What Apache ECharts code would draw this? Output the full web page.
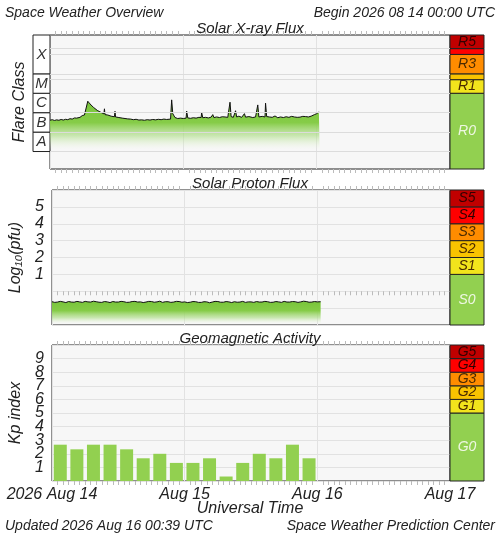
<!DOCTYPE html>
<html><head><meta charset="utf-8">
<script src="https://cdn.jsdelivr.net/npm/echarts@6/dist/echarts.min.js"></script>
<style>html,body{margin:0;padding:0;background:#fff}#c{width:500px;height:533px}</style>
</head><body><div id="c"></div>
<script>
// ---- data ----
// X-ray flux: [hours since 2026-08-14 00:00 UTC, log10(W/m^2)]
const xrayData = [
 [0,-6.39],[0.4,-6.36],[0.8,-6.40],[1.2,-6.37],[1.6,-6.39],[2,-6.35],[2.4,-6.38],[2.8,-6.34],[3.2,-6.36],[3.6,-6.31],[4,-6.33],
 [4.4,-6.27],[4.8,-6.28],[5,-6.22],[5.4,-6.24],[5.8,-6.15],[6.2,-6.12],[6.5,-6.05],[6.8,-5.41],[7.2,-5.55],
 [7.8,-5.72],[8.5,-5.88],[9.0,-5.96],[9.3,-6.02],[9.7,-6.06],[9.8,-5.80],[9.9,-6.10],[10.4,-6.12],[11.0,-6.18],[11.6,-6.21],[11.7,-5.93],[11.8,-6.22],
 [12.4,-6.25],[13,-6.28],[13.5,-6.30],[14,-6.32],[14.5,-6.33],[15,-6.36],[15.5,-6.34],[16,-6.38],[16.5,-6.37],[17,-6.39],[17.5,-6.36],[18,-6.38],
 [18.5,-6.35],[19,-6.37],[19.5,-6.34],[20,-6.36],[20.5,-6.33],[21,-6.35],[21.7,-6.33],[21.9,-5.34],
 [22.1,-6.05],[22.5,-6.25],[23.0,-6.30],[23.5,-6.28],[24.0,-6.30],[24.5,-6.28],[24.6,-5.92],[24.8,-6.27],[25.3,-6.29],[25.8,-6.26],[26.3,-6.28],
 [26.8,-6.24],[27.2,-6.25],[27.3,-6.00],[27.5,-6.26],[28,-6.24],[28.5,-6.27],[29,-6.23],[29.3,-6.10],[29.5,-6.25],[30,-6.22],[30.5,-6.25],
 [31,-6.21],[31.3,-6.12],[31.5,-6.22],[32,-6.24],[32.3,-6.22],[32.4,-5.46],[32.6,-6.20],[33.0,-6.24],[33.3,-6.22],[33.4,-5.90],
 [33.6,-6.22],[34.0,-6.18],[34.5,-6.24],[35.0,-6.05],[35.2,-6.23],[35.8,-6.20],[36.5,-6.25],[37.0,-6.22],[37.4,-5.60],[37.6,-6.22],[38.2,-6.19],[38.7,-6.22],[38.8,-5.51],[39.0,-6.20],
 [39.5,-6.22],[40,-6.24],[40.5,-6.17],[41,-6.26],[41.5,-6.22],[42,-6.25],[42.5,-6.21],[43,-6.24],[43.5,-6.19],[44,-6.22],[44.5,-6.24],[45,-6.23],
 [45.5,-6.19],[46,-6.20],[46.5,-6.22],[47,-6.18],[47.3,-6.20],[47.6,-6.10],[48.0,-6.05],[48.2,-6.08],[48.4,-5.97],[48.6,-6.00]
];
// Proton flux log10(pfu)
const protonData = [
 [0,-0.62],[0.5,-0.66],[1,-0.64],[1.5,-0.60],[2,-0.63],[2.5,-0.67],[3,-0.61],[3.5,-0.64],[4,-0.65],[4.5,-0.60],[5,-0.63],[5.5,-0.66],[6,-0.60],[6.5,-0.63],
 [7,-0.64],[7.5,-0.59],[8,-0.62],[8.5,-0.65],[9,-0.66],[9.5,-0.61],[10,-0.63],[10.5,-0.67],[11,-0.61],[11.5,-0.64],
 [12,-0.64],[12.5,-0.60],[13,-0.62],[13.5,-0.66],[14,-0.65],[14.5,-0.61],[15,-0.60],[15.5,-0.64],[16,-0.63],[16.5,-0.67],[17,-0.64],[17.5,-0.60],
 [18,-0.61],[18.5,-0.65],[19,-0.63],[19.5,-0.59],[20,-0.66],[20.5,-0.62],[21,-0.62],[21.5,-0.66],[22,-0.64],[22.5,-0.60],[23,-0.61],[23.5,-0.65],
 [24,-0.63],[24.5,-0.67],[25,-0.65],[25.5,-0.61],[26,-0.62],[26.5,-0.66],[27,-0.66],[27.5,-0.62],[28,-0.63],[28.5,-0.68],[29,-0.64],[29.5,-0.60],
 [30,-0.61],[30.5,-0.65],[31,-0.65],[31.5,-0.61],[32,-0.63],[32.5,-0.67],[33,-0.62],[33.5,-0.65],[34,-0.64],[34.5,-0.60],[35,-0.66],[35.5,-0.63],
 [36,-0.63],[36.5,-0.66],[37,-0.61],[37.5,-0.64],[38,-0.64],[38.5,-0.60],[39,-0.62],[39.5,-0.66],[40,-0.65],[40.5,-0.61],[41,-0.63],[41.5,-0.66],
 [42,-0.60],[42.5,-0.64],[43,-0.64],[43.5,-0.61],[44,-0.62],[44.5,-0.66],[45,-0.63],[45.5,-0.59],[46,-0.61],[46.5,-0.65],[47,-0.64],[47.5,-0.61],[48,-0.63],[48.6,-0.62]
];
// Kp index, 3-hour bins (bin centre in hours)
const kpHours = [1.5,4.5,7.5,10.5,13.5,16.5,19.5,22.5,25.5,28.5,31.5,34.5,37.5,40.5,43.5,46.5];
const kpValues = [2.67,2.33,2.67,2.67,2.33,1.67,2.0,1.33,1.33,1.67,0.33,1.33,2.0,1.67,2.67,1.67];
const dayLabels = {0:'2026 Aug 14',24:'Aug 15',48:'Aug 16',72:'Aug 17'};
const flareClasses = [['A',-8,-7],['B',-7,-6],['C',-6,-5],['M',-5,-4],['X',-4,-2]];
const rScale = [['R0',-8.9,-5,'#92d050'],['R1',-5,-4.3,'#f2e41c'],['',-4.3,-4,'#f9c300'],['R3',-4,-3,'#ff8c00'],['',-3,-2.7,'#ff0000'],['R5',-2.7,-2,'#c00000']];
const sScale = [['S0',-2,1,'#92d050'],['S1',1,2,'#f2e41c'],['S2',2,3,'#f9c300'],['S3',3,4,'#ff8c00'],['S4',4,5,'#ff0000'],['S5',5,6,'#c00000']];
const gScale = [['G0',0,5,'#92d050'],['G1',5,6,'#f2e41c'],['G2',6,7,'#f9c300'],['G3',7,8,'#ff8c00'],['G4',8,9,'#ff0000'],['G5',9,10,'#c00000']];

const FONT = 'Liberation Sans';
const chart = echarts.init(document.getElementById('c'));
const panels = [{top:35,h:134},{top:190,h:135},{top:345,h:136}];
const grids = [], xAxes = [], yAxes = [], series = [];
panels.forEach(p=>{
  grids.push({left:50,width:400,top:p.top,height:p.h,show:true,backgroundColor:'#f7f7f7',borderColor:'#222',borderWidth:1});
});
panels.forEach(p=>{ grids.push({left:450,width:34,top:p.top,height:p.h}); });
grids.push({left:33,width:17,top:35,height:134});

const yr = [[-8.9,-2],[-2,6],[0,10]];
for(let i=0;i<3;i++){
  xAxes.push({type:'value',gridIndex:i,min:0,max:72,interval:24,
    axisLine:{show:false},axisTick:{show:false},
    minorTick:{show:true,splitNumber:24,length:4,lineStyle:{color:'#bbb'}},
    splitLine:{show:true,lineStyle:{color:'#e2e2e2'}},
    axisLabel:{show:i===2,formatter:v=>dayLabels[v]||'',fontFamily:FONT,fontStyle:'italic',fontSize:16,color:'#222',margin:6}});
  xAxes.push({type:'value',gridIndex:i,min:0,max:72,interval:24,position:'top',
    axisLine:{show:false},axisTick:{show:false},minorTick:{show:true,splitNumber:24,length:4,lineStyle:{color:'#bbb'}},
    splitLine:{show:false},axisLabel:{show:false}});
}
const nameStyle = {fontFamily:FONT,fontStyle:'italic',fontSize:16,color:'#222'};
yAxes.push({type:'value',gridIndex:0,min:-8.9,max:-2,interval:1,name:'Flare Class',nameLocation:'middle',nameGap:22,
  nameTextStyle:nameStyle,axisLine:{show:false},axisTick:{show:false},axisLabel:{show:false},splitLine:{show:false}});
yAxes.push({type:'value',gridIndex:1,min:-2,max:6,interval:1,name:'Log\u2081\u2080(pfu)',nameLocation:'middle',nameGap:28,
  nameTextStyle:nameStyle,axisLine:{show:false},axisTick:{show:false},splitLine:{show:true,lineStyle:{color:'#e2e2e2'}},
  axisLabel:{formatter:v=>(v>=1&&v<=5)?String(v):'',fontFamily:FONT,fontStyle:'italic',fontSize:16,color:'#222',margin:8}});
yAxes.push({type:'value',gridIndex:2,min:0,max:10,interval:1,name:'Kp index',nameLocation:'middle',nameGap:28,
  nameTextStyle:nameStyle,axisLine:{show:false},axisTick:{show:false},splitLine:{show:true,lineStyle:{color:'#e2e2e2'}},
  axisLabel:{formatter:v=>(v>=1&&v<=9)?String(v):'',fontFamily:FONT,fontStyle:'italic',fontSize:16,color:'#222',margin:8}});
for(let g=3;g<7;g++){
  xAxes.push({type:'value',gridIndex:g,min:0,max:1,show:false});
  const r = g===6?yr[0]:yr[g-3];
  yAxes.push({type:'value',gridIndex:g,min:r[0],max:r[1],show:false});
}
const xi = g=> g<3 ? g*2 : 6+(g-3);
const yi = g=> g<3 ? g : 3+(g-3);

function bandSeries(g, data, textColor, fontSize){
  series.push({type:'custom',xAxisIndex:xi(g),yAxisIndex:yi(g),data:data.map(d=>[d[1],d[2]]),
    renderItem:(params,api)=>{
      const d=data[params.dataIndex];
      const p1=api.coord([0,api.value(1)]), p2=api.coord([1,api.value(0)]);
      const tc = typeof textColor==='function'?textColor(d):textColor;
      return {type:'group',children:[
        {type:'rect',shape:{x:p1[0],y:p1[1],width:p2[0]-p1[0],height:p2[1]-p1[1]},style:{fill:d[3]||'#fff',stroke:'#222',lineWidth:1}},
        {type:'text',style:{text:d[0],x:(p1[0]+p2[0])/2,y:(p1[1]+p2[1])/2,align:'center',verticalAlign:'middle',
          font:'italic '+fontSize+'px '+FONT,fill:tc}}
      ]};
    }});
}
const scaleText = d=> d[0].endsWith('0') ? '#eef7e2' : (d[3]==='#c00000'||d[3]==='#ff0000' ? '#300' : '#4a2a00');
bandSeries(3,rScale,scaleText,14);
bandSeries(4,sScale,scaleText,14);
bandSeries(5,gScale,scaleText,14);
bandSeries(6,flareClasses,'#333',15);

const areaGrad = (a,m,b)=>({type:'linear',x:0,y:0,x2:0,y2:1,colorStops:[{offset:0,color:'#78c43a'},{offset:a,color:'#86cc48'},{offset:m,color:'rgba(170,220,130,0.6)'},{offset:b,color:'rgba(230,245,215,0)'},{offset:1,color:'rgba(255,255,255,0)'}]});
series.push({type:'line',xAxisIndex:0,yAxisIndex:0,data:xrayData,symbol:'none',
  lineStyle:{color:'#111',width:1},areaStyle:{origin:'start',opacity:1,color:areaGrad(0.33,0.52,0.72)},
  markLine:{silent:true,symbol:'none',label:{show:false},lineStyle:{color:'#dcdcdc',type:'solid',width:1},
    data:[-8,-7,-6,-5,-4,-3,-2.7,-4.3].map(v=>({yAxis:v}))}});
series.push({type:'line',xAxisIndex:2,yAxisIndex:1,data:protonData,symbol:'none',
  lineStyle:{color:'#111',width:1},areaStyle:{origin:'start',opacity:1,color:areaGrad(0.4,0.7,0.95)}});
series.push({type:'bar',xAxisIndex:4,yAxisIndex:2,data:kpHours.map((h,i)=>[h,kpValues[i]]),barWidth:13,
  itemStyle:{color:'#92d050'}});

const ts = (s,o)=>Object.assign({textStyle:{fontFamily:FONT,fontStyle:'italic',fontWeight:'normal',fontSize:s,color:'#222'}},o);
chart.setOption({
  animation:false,
  backgroundColor:'#fff',
  title:[
    ts(14,{text:'Space Weather Overview',left:0,top:1}),
    ts(14,{text:'Begin 2026 08 14 00:00 UTC',right:0,top:1}),
    ts(15,{text:'Solar X-ray Flux',left:'center',top:16}),
    ts(15,{text:'Solar Proton Flux',left:'center',top:171}),
    ts(15,{text:'Geomagnetic Activity',left:'center',top:326}),
    ts(16,{text:'Universal Time',left:'center',top:496}),
    ts(14,{text:'Updated 2026 Aug 16 00:39 UTC',left:0,top:514}),
    ts(14,{text:'Space Weather Prediction Center',right:0,top:514})
  ],
  grid:grids,xAxis:xAxes,yAxis:yAxes,series:series
});
</script></body></html>
